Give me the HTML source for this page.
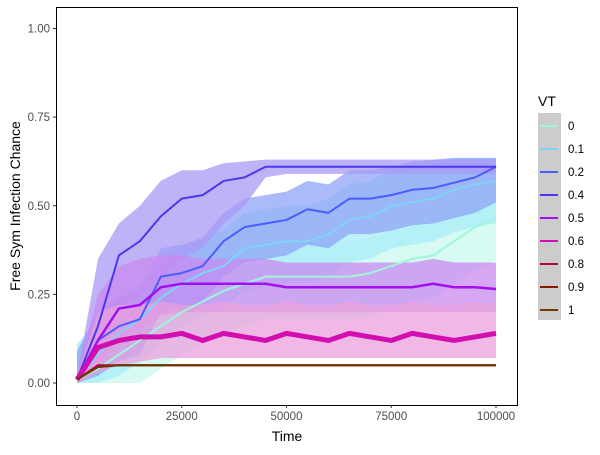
<!DOCTYPE html>
<html><head><meta charset="utf-8"><style>
body{margin:0;background:#fff;font-family:"Liberation Sans",sans-serif}
</style></head><body>
<svg id="chart" width="600" height="450" xmlns="http://www.w3.org/2000/svg" font-family="Liberation Sans, sans-serif">
<g id="plot"></g>
<rect x="56.5" y="7.5" width="461" height="398" fill="none" stroke="#000" stroke-width="1"/>
<g id="axes"></g>
<text x="287" y="441" font-size="14" text-anchor="middle">Time</text>
<text x="20" y="206" font-size="14" text-anchor="middle" transform="rotate(-90 20 206)">Free Sym Infection Chance</text>
<g id="legend"></g>
</svg>
<script>
const times=[0,5000,10000,15000,20000,25000,30000,35000,40000,45000,50000,55000,60000,65000,70000,75000,80000,85000,90000,95000,100000];
const vtLabels=["0","0.1","0.2","0.4","0.5","0.6","0.8","0.9","1"];
const vt0=[0.01,0.04,0.08,0.12,0.16,0.2,0.23,0.26,0.28,0.3,0.3,0.3,0.3,0.3,0.31,0.33,0.35,0.36,0.4,0.44,0.465];
const vt01=[0.01,0.08,0.14,0.18,0.24,0.28,0.31,0.33,0.38,0.39,0.4,0.4,0.42,0.46,0.47,0.5,0.51,0.52,0.545,0.56,0.57];
const vt02=[0.01,0.12,0.16,0.18,0.3,0.31,0.33,0.4,0.44,0.45,0.46,0.49,0.48,0.52,0.52,0.53,0.545,0.55,0.565,0.58,0.61];
const vt04=[0.01,0.16,0.36,0.4,0.47,0.52,0.53,0.57,0.58,0.61,0.61,0.61,0.61,0.61,0.61,0.61,0.61,0.61,0.61,0.61,0.61];
const vt05=[0.01,0.12,0.21,0.22,0.27,0.28,0.28,0.28,0.28,0.28,0.27,0.27,0.27,0.27,0.27,0.27,0.27,0.28,0.27,0.27,0.265];
const vt06=[0.01,0.1,0.12,0.13,0.13,0.14,0.12,0.14,0.13,0.12,0.14,0.13,0.12,0.14,0.13,0.12,0.14,0.13,0.12,0.13,0.14];
const vt08=[0.01,0.05,0.05,0.05,0.05,0.05,0.05,0.05,0.05,0.05,0.05,0.05,0.05,0.05,0.05,0.05,0.05,0.05,0.05,0.05,0.05];
const vt09=[0.01,0.045,0.05,0.05,0.05,0.05,0.05,0.05,0.05,0.05,0.05,0.05,0.05,0.05,0.05,0.05,0.05,0.05,0.05,0.05,0.05];
const vt1=[0.01,0.045,0.05,0.05,0.05,0.05,0.05,0.05,0.05,0.05,0.05,0.05,0.05,0.05,0.05,0.05,0.05,0.05,0.05,0.05,0.05];
const hi04=[0.02,0.35,0.45,0.5,0.57,0.6,0.6,0.62,0.625,0.63,0.63,0.63,0.63,0.63,0.63,0.63,0.63,0.63,0.63,0.63,0.63];
const lo04=[0.0,0.05,0.2,0.25,0.3,0.35,0.38,0.45,0.5,0.58,0.59,0.59,0.59,0.59,0.59,0.59,0.59,0.59,0.59,0.59,0.59];
const hi05=[0.02,0.25,0.33,0.35,0.36,0.36,0.35,0.35,0.35,0.35,0.34,0.34,0.34,0.34,0.34,0.34,0.34,0.35,0.34,0.34,0.34];
const lo05=[0.0,0.05,0.12,0.15,0.19,0.2,0.2,0.2,0.2,0.2,0.2,0.2,0.2,0.2,0.2,0.2,0.2,0.2,0.2,0.2,0.2];
const hi06=[0.02,0.2,0.22,0.22,0.23,0.22,0.22,0.23,0.22,0.22,0.23,0.22,0.22,0.23,0.22,0.22,0.23,0.22,0.22,0.23,0.22];
const lo06=[0.0,0.03,0.05,0.06,0.07,0.07,0.07,0.07,0.07,0.07,0.07,0.07,0.07,0.07,0.07,0.07,0.07,0.07,0.07,0.07,0.07];
const colors=["#9ff5dc","#7fd4f5","#4d5cff","#4b38ee","#a210f2","#d20eb0","#b3003f","#8b1500","#6b3c00"];
const ribbonColors=["#c9f8ee","#a8eef8","#8fa3f5","#a99af5","#c98af0",null,null,null,null];
const seriesVals=[vt0,vt01,vt02,vt04,vt05,vt06,vt08,vt09,vt1];

const NS="http://www.w3.org/2000/svg";
const X=t=>77+t/100000*419;
const Y=v=>383-v*354.5;
const plot=document.getElementById('plot');
function mk(tag,attrs,parent){const e=document.createElementNS(NS,tag);for(const k in attrs)e.setAttribute(k,attrs[k]);parent.appendChild(e);return e;}
function ribbon(lo,hi,col,name){
  let d="M"+times.map((t,i)=>X(t)+","+Y(hi[i])).join("L")+"L"+times.slice().reverse().map((t,j)=>{const i=times.length-1-j;return X(t)+","+Y(lo[i]);}).join("L")+"Z";
  const p=mk('path',{d:d,fill:col,'fill-opacity':0.75},plot);
  
  
}
const ribbonOffsets=[[0.12,0.1],[0.12,0.1],[0.1,0.08]];
for(let s=0;s<3;s++){
  const v=seriesVals[s];
  ribbon(v.map(x=>Math.max(0,x-ribbonOffsets[s][0])),v.map(x=>Math.min(0.635,x+ribbonOffsets[s][1])),ribbonColors[s],'ribbon-vt-'+vtLabels[s]);
}
ribbon(lo04,hi04,ribbonColors[3],'ribbon-vt-0.4');
ribbon(lo05,hi05,ribbonColors[4],'ribbon-vt-0.5');
ribbon(lo06,hi06,"#eaa0dc",'ribbon-vt-0.6');
seriesVals.forEach((v,s)=>{
  const d="M"+times.map((t,i)=>X(t)+","+Y(v[i])).join("L");
  const w=s===5?5:(s===4?2.5:2);
  const p=mk('path',{d:d,fill:'none',stroke:colors[s],'stroke-width':w,'stroke-linejoin':'round'},plot);
  
  
});
const axes=document.getElementById('axes');
const yTicks=[0,0.25,0.5,0.75,1];
const yTickLabels=["0.00","0.25","0.50","0.75","1.00"];
yTicks.forEach((v,i)=>{
  const l=mk('line',{x1:53,x2:56,y1:Y(v),y2:Y(v),stroke:'#333'},axes);
  
  
  const t=mk('text',{x:50,y:Y(v)+4,'font-size':11.5,'text-anchor':'end',fill:'#4d4d4d'},axes);
  t.textContent=yTickLabels[i];
  
  
});
const xTicks=[0,25000,50000,75000,100000];
const xTickLabels=["0","25000","50000","75000","100000"];
xTicks.forEach((v,i)=>{
  const l=mk('line',{x1:X(v),x2:X(v),y1:405,y2:408,stroke:'#333'},axes);
  
  
  const t=mk('text',{x:X(v),y:420,'font-size':11.5,'text-anchor':'middle',fill:'#4d4d4d'},axes);
  t.textContent=xTickLabels[i];
  
  
});
const lg=document.getElementById('legend');
const lt=mk('text',{x:538,y:106,'font-size':14},lg);
lt.textContent="VT";


const bg=mk('rect',{x:538,y:113,width:23,height:207,fill:'#cccccc'},lg);


vtLabels.forEach((lab,i)=>{
  const y=126+i*23;
  const l=mk('line',{x1:540,x2:558,y1:y,y2:y,stroke:colors[i],'stroke-width':2},lg);
  
  
  const t=mk('text',{x:568,y:y+4,'font-size':11.5,fill:'#000'},lg);
  t.textContent=lab;
  
  
});
</script>
</body></html>
